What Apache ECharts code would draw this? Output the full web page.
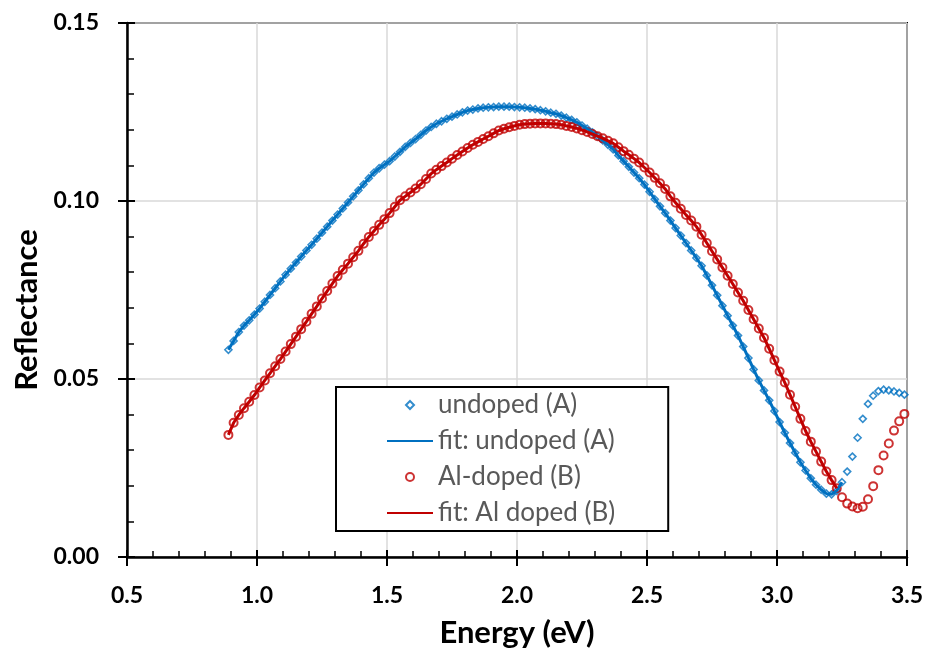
<!DOCTYPE html>
<html>
<head>
<meta charset="utf-8">
<script src="https://cdn.jsdelivr.net/npm/echarts@6/dist/echarts.min.js"></script>
<style>
html,body{margin:0;padding:0;background:#fff;}
#chart{width:928px;height:657px;}
</style>
</head>
<body>
<div id="chart"></div>
<script>
// Photon energy (eV)
const energy = [
0.89,0.91,0.93,0.95,0.97,0.99,1.01,1.03,1.05,1.07,1.09,1.11,1.13,1.15,1.17,1.19,1.21,1.23,1.25,1.27,
1.29,1.31,1.33,1.35,1.37,1.39,1.41,1.43,1.45,1.47,1.49,1.51,1.53,1.55,1.57,1.59,1.61,1.63,1.65,1.67,
1.69,1.71,1.73,1.75,1.77,1.79,1.81,1.83,1.85,1.87,1.89,1.91,1.93,1.95,1.97,1.99,2.01,2.03,2.05,2.07,
2.09,2.11,2.13,2.15,2.17,2.19,2.21,2.23,2.25,2.27,2.29,2.31,2.33,2.35,2.37,2.39,2.41,2.43,2.45,2.47,
2.49,2.51,2.53,2.55,2.57,2.59,2.61,2.63,2.65,2.67,2.69,2.71,2.73,2.75,2.77,2.79,2.81,2.83,2.85,2.87,
2.89,2.91,2.93,2.95,2.97,2.99,3.01,3.03,3.05,3.07,3.09,3.11,3.13,3.15,3.17,3.19,3.21,3.23,3.25,3.27,
3.29,3.31,3.33,3.35,3.37,3.39,3.41,3.43,3.45,3.47,3.49
];
// Reflectance, undoped (A)
const undopedA = [
0.0582,0.0607,0.0632,0.0650,0.0665,0.0681,0.0698,0.0717,0.0736,0.0755,0.0774,0.0793,0.0810,0.0827,0.0844,0.0861,0.0877,0.0894,0.0911,0.0928,
0.0945,0.0962,0.0979,0.0996,0.1013,0.1030,0.1047,0.1064,0.1080,0.1092,0.1102,0.1112,0.1125,0.1138,0.1152,0.1163,0.1174,0.1186,0.1198,0.1208,
0.1217,0.1224,0.1231,0.1237,0.1243,0.1249,0.1254,0.1257,0.1260,0.1262,0.1263,0.1264,0.1265,0.1265,0.1265,0.1264,0.1263,0.1262,0.1260,0.1258,
0.1255,0.1252,0.1248,0.1245,0.1240,0.1234,0.1228,0.1221,0.1212,0.1203,0.1193,0.1182,0.1170,0.1158,0.1145,0.1128,0.1112,0.1096,0.1080,0.1064,
0.1046,0.1026,0.1005,0.0985,0.0966,0.0945,0.0924,0.0903,0.0882,0.0861,0.0840,0.0818,0.0791,0.0763,0.0735,0.0706,0.0678,0.0650,0.0622,0.0591,
0.0559,0.0527,0.0496,0.0468,0.0440,0.0410,0.0379,0.0349,0.0320,0.0293,0.0266,0.0243,0.0221,0.0203,0.0189,0.0178,0.0176,0.0186,0.0210,0.0240,
0.0282,0.0335,0.0388,0.0430,0.0453,0.0466,0.0470,0.0468,0.0465,0.0461,0.0456
];
// Reflectance, Al-doped (B)
const alDopedB = [
0.0343,0.0377,0.0399,0.0418,0.0436,0.0455,0.0476,0.0496,0.0516,0.0536,0.0556,0.0577,0.0598,0.0619,0.0640,0.0661,0.0683,0.0704,0.0726,0.0747,
0.0768,0.0789,0.0807,0.0824,0.0842,0.0860,0.0880,0.0899,0.0916,0.0933,0.0949,0.0966,0.0984,0.1002,0.1013,0.1024,0.1035,0.1047,0.1062,0.1077,
0.1088,0.1098,0.1108,0.1119,0.1129,0.1139,0.1149,0.1158,0.1166,0.1174,0.1182,0.1190,0.1198,0.1203,0.1207,0.1211,0.1214,0.1216,0.1217,0.1218,
0.1218,0.1218,0.1217,0.1216,0.1214,0.1211,0.1208,0.1204,0.1199,0.1194,0.1188,0.1182,0.1176,0.1169,0.1162,0.1151,0.1140,0.1130,0.1119,0.1108,
0.1094,0.1080,0.1065,0.1050,0.1034,0.1013,0.0995,0.0978,0.0961,0.0945,0.0928,0.0905,0.0882,0.0859,0.0836,0.0813,0.0790,0.0767,0.0743,0.0720,
0.0694,0.0668,0.0642,0.0616,0.0585,0.0553,0.0521,0.0490,0.0456,0.0422,0.0388,0.0354,0.0324,0.0296,0.0268,0.0240,0.0216,0.0193,0.0168,0.0150,
0.0142,0.0137,0.0141,0.0162,0.0199,0.0244,0.0285,0.0319,0.0355,0.0381,0.0402
];
// fit ranges (last energy index covered by each fit)
const fitEndA = 118; // 3.25 eV
const fitEndB = 117; // 3.23 eV
const xTicks = [0.5, 3.5, 0.5];
const yTicks = [0, 0.15, 0.05];
const seriesNames = ['undoped (A)', 'fit: undoped (A)', 'Al-doped (B)', 'fit: Al doped (B)'];

const BLUE = '#0070C0', RED = '#C00000';
const FONT = 'Lato';
const DIAMOND = 'path://M5,0L10,5L5,10L0,5Z';
const pairs = (ys, end) => energy.slice(0, end + 1).map((e, i) => [e, ys[i]]);

const chart = echarts.init(document.getElementById('chart'), null, {renderer: 'canvas'});
const common = {type: 'value', gridIndex: 0};
const noSymbol = {color: 'rgba(0,0,0,0)', borderColor: 'rgba(0,0,0,0)', borderWidth: 0, opacity: 0};
chart.setOption({
  animation: false,
  backgroundColor: '#fff',
  grid: {left: 127, right: 21, top: 23, bottom: 100, show: true, borderColor: '#000', borderWidth: 2, backgroundColor: 'transparent'},
  xAxis: [
    Object.assign({}, common, {
      min: xTicks[0], max: xTicks[1], interval: xTicks[2], position: 'bottom',
      axisLine: {show: true, lineStyle: {color: '#000', width: 2.5}},
      axisTick: {show: true, inside: true, length: 7, lineStyle: {color: '#000', width: 2}},
      minorTick: {show: true, splitNumber: 5, length: 6, lineStyle: {color: '#000', width: 1.5}},
      axisLabel: {fontFamily: FONT, fontWeight: 'bold', fontSize: 23, color: '#000', margin: 27, formatter: v => v.toFixed(1)},
      splitLine: {show: true, lineStyle: {color: '#d9d9d9', width: 1.5}},
      name: 'Energy (eV)', nameLocation: 'middle', nameGap: 60,
      nameTextStyle: {fontFamily: FONT, fontWeight: 'bold', fontSize: 31, color: '#000'}
    }),
    Object.assign({}, common, {
      min: xTicks[0], max: xTicks[1], interval: xTicks[2], position: 'bottom', offset: 0,
      axisLine: {show: false},
      axisTick: {show: true, inside: false, length: 9, lineStyle: {color: '#000', width: 2}},
      axisLabel: {show: false}, splitLine: {show: false}
    })
  ],
  yAxis: [
    Object.assign({}, common, {
      min: yTicks[0], max: yTicks[1], interval: yTicks[2], position: 'left',
      axisLine: {show: true, lineStyle: {color: '#000', width: 2.5}},
      axisTick: {show: true, inside: true, length: 8, lineStyle: {color: '#000', width: 2}},
      minorTick: {show: true, splitNumber: 5, length: 7, lineStyle: {color: '#000', width: 1.5}},
      axisLabel: {fontFamily: FONT, fontWeight: 'bold', fontSize: 23, color: '#000', margin: 28, formatter: v => v.toFixed(2)},
      splitLine: {show: true, lineStyle: {color: '#d9d9d9', width: 1.5}}
    }),
    Object.assign({}, common, {
      min: yTicks[0], max: yTicks[1], interval: yTicks[2], position: 'left', offset: 0,
      axisLine: {show: false},
      axisTick: {show: true, inside: false, length: 9, lineStyle: {color: '#000', width: 2}},
      axisLabel: {show: false}, splitLine: {show: false}
    })
  ],
  graphic: [{
    type: 'text', x: 27, y: 310, rotation: Math.PI / 2,
    style: {text: 'Reflectance', fontFamily: FONT, fontWeight: 'bold', fontSize: 31, fill: '#000', align: 'center', verticalAlign: 'middle'}
  }],
  legend: {
    data: [
      {name: seriesNames[0], icon: DIAMOND},
      {name: seriesNames[1], itemStyle: noSymbol},
      {name: seriesNames[2]},
      {name: seriesNames[3], itemStyle: noSymbol}
    ],
    orient: 'vertical', left: 336, top: 387,
    itemWidth: 46, itemHeight: 8, itemGap: 6, symbolKeepAspect: true,
    padding: [3, 53, 3, 50],
    borderColor: '#000', borderWidth: 2, backgroundColor: '#fff',
    textStyle: {fontFamily: FONT, fontSize: 26, color: '#595959', lineHeight: 30}
  },
  series: [
    {name: seriesNames[0], type: 'scatter', xAxisIndex: 0, yAxisIndex: 0, data: pairs(undopedA, energy.length - 1),
     symbol: 'diamond', symbolSize: 7, itemStyle: {color: 'rgba(0,0,0,0)', borderColor: BLUE, borderWidth: 1.6}},
    {name: seriesNames[1], type: 'line', xAxisIndex: 0, yAxisIndex: 0, data: pairs(undopedA, fitEndA),
     symbol: 'none', color: BLUE, lineStyle: {color: BLUE, width: 3}},
    {name: seriesNames[2], type: 'scatter', xAxisIndex: 0, yAxisIndex: 0, data: pairs(alDopedB, energy.length - 1),
     symbol: 'circle', symbolSize: 8, itemStyle: {color: 'rgba(0,0,0,0)', borderColor: RED, borderWidth: 2}},
    {name: seriesNames[3], type: 'line', xAxisIndex: 0, yAxisIndex: 0, data: pairs(alDopedB, fitEndB),
     symbol: 'none', color: RED, lineStyle: {color: RED, width: 3}}
  ]
});
</script>
</body>
</html>
